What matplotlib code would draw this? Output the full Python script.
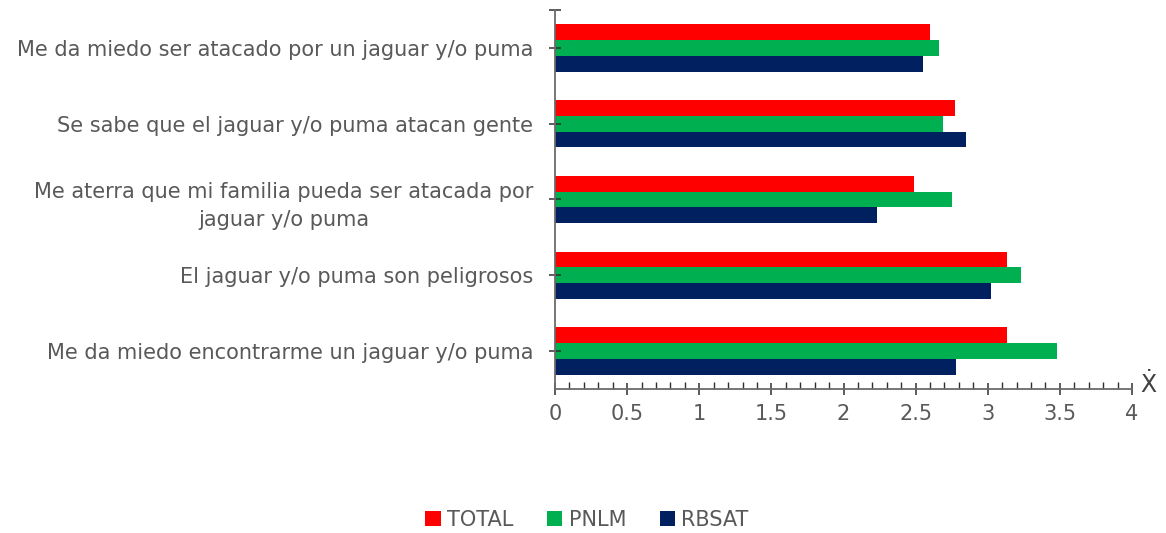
import matplotlib
matplotlib.use("Agg")
import matplotlib.pyplot as plt
import numpy as np
from matplotlib.ticker import MultipleLocator, FixedLocator, FixedFormatter

categories = [
    "Me da miedo ser atacado por un jaguar y/o puma",
    "Se sabe que el jaguar y/o puma atacan gente",
    "Me aterra que mi familia pueda ser atacada por\njaguar y/o puma",
    "El jaguar y/o puma son peligrosos",
    "Me da miedo encontrarme un jaguar y/o puma",
]
total = [2.60, 2.77, 2.49, 3.13, 3.13]
pnlm = [2.66, 2.69, 2.75, 3.23, 3.48]
rbsat = [2.55, 2.85, 2.23, 3.02, 2.78]
series_names = ["TOTAL", "PNLM", "RBSAT"]
colors = ["#FF0000", "#00B050", "#002060"]
xticks = [0, 0.5, 1, 1.5, 2, 2.5, 3, 3.5, 4]
xticklabels = ["0", "0.5", "1", "1.5", "2", "2.5", "3", "3.5", "4"]

plt.rcParams['font.family'] = ['DejaVu Sans']
txt = "#595959"
axc = "#6b6b6b"
fs = 15

fig = plt.figure(figsize=(11.66, 5.33), dpi=100)
ax = fig.add_axes([555/1166, 1-389/533, (1132-555)/1166, (389-10)/533])

y = np.arange(len(categories))
h = 0.208
for i, (vals, name, c) in enumerate(zip([total, pnlm, rbsat], series_names, colors)):
    ax.barh(y + (i - 1) * h, vals, height=h, color=c, label=name, edgecolor='none')

ax.set_ylim(4.5, -0.5)
ax.set_xlim(0, 4)

for s in ['top', 'right']:
    ax.spines[s].set_visible(False)
for s in ['left', 'bottom']:
    ax.spines[s].set_color(axc)
    ax.spines[s].set_linewidth(1.3)

ax.yaxis.set_major_locator(FixedLocator(list(y) + [-0.5]))
ax.yaxis.set_major_formatter(FixedFormatter(categories + [""]))
ax.tick_params(axis='y', direction='inout', length=9, width=1.1, color='#303030',
               labelsize=fs, labelcolor=txt, pad=11)
for lab in ax.get_yticklabels():
    lab.set_multialignment('center')
    lab.set_linespacing(1.55)

ax.xaxis.set_major_locator(FixedLocator(xticks))
ax.xaxis.set_major_formatter(FixedFormatter(xticklabels))
ax.xaxis.set_minor_locator(MultipleLocator(0.1))
ax.tick_params(axis='x', which='major', direction='inout', length=9, width=1.1,
               color='#303030', labelsize=fs, labelcolor=txt, pad=6)
ax.tick_params(axis='x', which='minor', direction='in', length=5, width=1.0,
               color='#303030')

fig.text(1148/1166, 1-385/533, "\u1E8A", fontsize=17, color='#404040',
         ha='center', va='center')

handles, labels = ax.get_legend_handles_labels()
fig.legend(handles, labels, loc='center', bbox_to_anchor=(587/1166, 1-520/533),
           ncol=3, frameon=False, fontsize=fs, labelcolor=txt,
           handlelength=0.75, handleheight=0.75, handletextpad=0.3,
           columnspacing=1.6)

fig.savefig("out.png", dpi=100)
